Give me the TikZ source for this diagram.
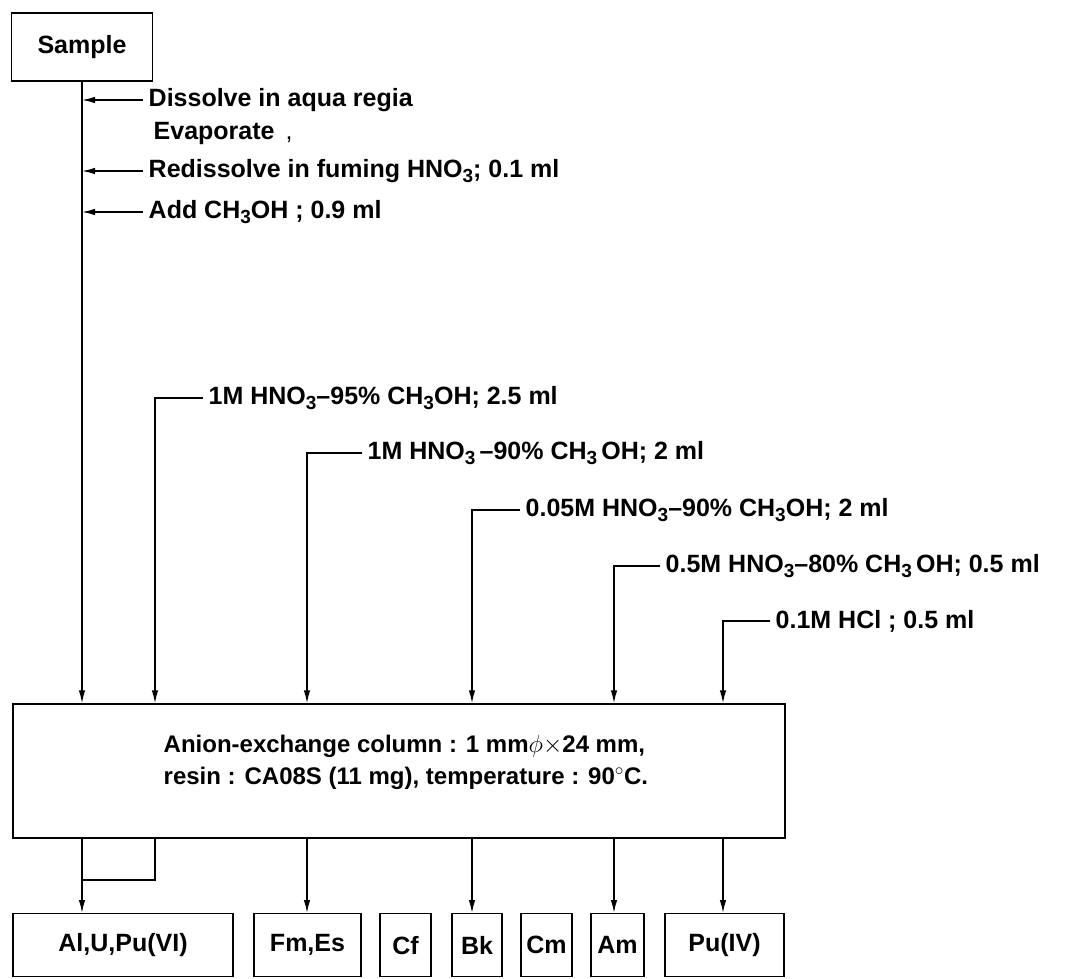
\documentclass[tikz,border=0pt]{standalone}
\usepackage{fontspec}
\setmainfont{Liberation Sans}
\usetikzlibrary{arrows.meta,positioning}
\newcommand{\sbs}[1]{\raisebox{-0.35ex}{\fontsize{19}{19}\selectfont #1}}
\begin{document}
\begin{tikzpicture}[x=1pt,y=-1pt,line width=1.4pt,
  font=\fontsize{25}{32}\selectfont\bfseries,
  box/.style={draw,inner sep=0pt},
  lbl/.style={anchor=west,inner xsep=5pt,inner ysep=0pt},
  arr/.style={-{Latex[length=13pt,width=6.5pt]}}]
\useasboundingbox (0,0) rectangle (1069,979);
\node[box,minimum width=141pt,minimum height=68pt] (smp) at (82,47) {Sample};
\node[box,minimum width=772pt,minimum height=134pt] (col) at (399,771) {};
\node[anchor=west,align=left,inner sep=0pt,font=\fontsize{24}{32}\selectfont\bfseries] (coltxt) at (163,762) {Anion-exchange column : 1 mm$\phi$$\times$24 mm,\\resin : CA08S (11 mg), temperature : 90$^\circ$C.};
\node[lbl] (dis) at (143,100) {Dissolve in aqua regia};
\node[lbl] (eva) at (148,133) {Evaporate \,{\mdseries,}};
\node[lbl] (red) at (143,171) {Redissolve in fuming HNO\sbs{3}; 0.1 ml};
\node[lbl] (add) at (143,212) {Add CH\sbs{3}OH ; 0.9 ml};
\draw[arr] (smp.south) -- (smp.south |- col.north);
\draw[arr] (dis.west) -- (dis.west -| smp.south);
\draw[arr] (red.west) -- (red.west -| smp.south);
\draw[arr] (add.west) -- (add.west -| smp.south);
\coordinate (k1) at (155,398);
\coordinate (k2) at (307,453);
\coordinate (k3) at (472,510);
\coordinate (k4) at (614,566);
\coordinate (k5) at (723,621);
\node[lbl] (e1) at (203,398) {1M HNO\sbs{3}--95\% CH\sbs{3}OH; 2.5 ml};
\node[lbl] (e2) at (362,453) {1M HNO\sbs{3}\,--90\% CH\sbs{3}\,OH; 2 ml};
\node[lbl] (e3) at (520,510) {0.05M HNO\sbs{3}--90\% CH\sbs{3}OH; 2 ml};
\node[lbl] (e4) at (660,566) {0.5M HNO\sbs{3}--80\% CH\sbs{3}\,OH; 0.5 ml};
\node[lbl] (e5) at (770,621) {0.1M HCl ; 0.5 ml};
\draw[arr] (e1.west) -- (k1) -- (k1 |- col.north);
\draw[arr] (e2.west) -- (k2) -- (k2 |- col.north);
\draw[arr] (e3.west) -- (k3) -- (k3 |- col.north);
\draw[arr] (e4.west) -- (k4) -- (k4 |- col.north);
\draw[arr] (e5.west) -- (k5) -- (k5 |- col.north);
\node[box,anchor=north,minimum width=220pt,minimum height=63pt] (alu) at (123,913) {Al,U,Pu(VI)};
\node[box,anchor=north,minimum width=107pt,minimum height=63pt] (fmes) at (307.5,913) {Fm,Es};
\node[box,anchor=north,minimum width=51pt,minimum height=63pt] (cf) at (405.5,913) {Cf};
\node[box,anchor=north,minimum width=50pt,minimum height=63pt] (bk) at (477,913) {Bk};
\node[box,anchor=north,minimum width=51pt,minimum height=63pt] (cm) at (546.5,913) {Cm};
\node[box,anchor=north,minimum width=53pt,minimum height=63pt] (am) at (617.5,913) {Am};
\node[box,anchor=north,minimum width=119pt,minimum height=63pt] (puiv) at (724.5,913) {Pu(IV)};
\coordinate (j) at (155,880);
\draw (j |- col.south) -- (j) -- (j -| smp.south);
\draw[arr] (smp.south |- col.south) -- (smp.south |- alu.north);
\draw[arr] (k2 |- col.south) -- (k2 |- fmes.north);
\draw[arr] (k3 |- col.south) -- (k3 |- bk.north);
\draw[arr] (k4 |- col.south) -- (k4 |- am.north);
\draw[arr] (k5 |- col.south) -- (k5 |- puiv.north);
\end{tikzpicture}
\end{document}
